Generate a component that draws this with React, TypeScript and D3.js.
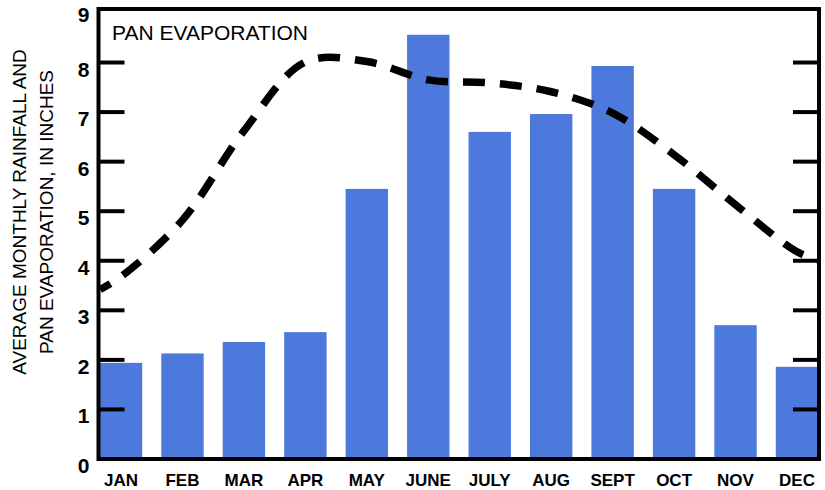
import React from "react";
import * as d3 from "d3";

const months = ["JAN", "FEB", "MAR", "APR", "MAY", "JUNE", "JULY", "AUG", "SEPT", "OCT", "NOV", "DEC"];
const rainfall = [1.94, 2.13, 2.36, 2.56, 5.45, 8.56, 6.6, 6.96, 7.93, 5.45, 2.7, 1.86];
// pan evaporation curve: month position (0 = JAN) and value
const evapPos = [-0.34, 0, 1, 2, 3, 4, 5, 6, 7, 8, 9, 10, 11, 11.34];
const evapVal = [3.42, 3.68, 4.82, 6.62, 8.01, 8.02, 7.65, 7.59, 7.41, 6.98, 6.14, 5.13, 4.18, 4.02];
const yTicks = [1, 2, 3, 4, 5, 6, 7, 8];
const yLabels = [0, 1, 2, 3, 4, 5, 6, 7, 8, 9];
const yMax = 9.08;

const W = 825;
const H = 490;
const left = 98.5;
const right = 819;
const top = 9;
const bottom = 459;

export default function App() {
  const x = d3.scaleBand<string>().domain(months).range([90.3, 827.7]).paddingInner(0.31).paddingOuter(0.155);
  const step = x.step();
  const center = (i: number) => (x(months[0]) as number) + x.bandwidth() / 2 + i * step;
  const y = d3.scaleLinear().domain([0, yMax]).range([bottom, top]);

  const line = d3
    .line<number>()
    .x((_, i) => center(evapPos[i]))
    .y((v) => y(v))
    .curve(d3.curveCatmullRom.alpha(0.5));
  const evapPath = line(evapVal) || "";

  const font = "'Liberation Sans', Arial, Helvetica, sans-serif";
  const lastLabel = yLabels[yLabels.length - 1];

  return (
    <svg width={W} height={H} style={{ position: "absolute", left: 0, top: 0, background: "#fff" }} fontFamily={font}>
      <defs>
        <clipPath id="plotClip">
          <rect x={left} y={top} width={right - left} height={bottom - top} />
        </clipPath>
      </defs>
      <g clipPath="url(#plotClip)">
        {rainfall.map((v, i) => (
          <rect
            key={months[i]}
            x={x(months[i])}
            y={y(v)}
            width={x.bandwidth()}
            height={y(0) - y(v)}
            fill="#4C79DB"
          />
        ))}
        <path
          d={evapPath}
          fill="none"
          stroke="#000"
          strokeWidth={7.5}
          strokeDasharray="22 15"
          strokeDashoffset={10}
        />
      </g>
      {yTicks.map((t) => (
        <g key={t}>
          <line x1={left} x2={left + 26} y1={y(t)} y2={y(t)} stroke="#000" strokeWidth={4} />
          <line x1={right - 26} x2={right} y1={y(t)} y2={y(t)} stroke="#000" strokeWidth={4} />
        </g>
      ))}
      <rect x={left} y={top} width={right - left} height={bottom - top} fill="none" stroke="#000" strokeWidth={4} />
      {yLabels.map((t) => (
        <text
          key={t}
          x={89.5}
          y={t === lastLabel ? top + 13 : y(t) + 14}
          textAnchor="end"
          fontSize={21}
          fontWeight="bold"
          fill="#000"
        >
          {t}
        </text>
      ))}
      {months.map((m) => (
        <text
          key={m}
          x={(x(m) as number) + x.bandwidth() / 2}
          y={486}
          textAnchor="middle"
          fontSize={17}
          fontWeight="bold"
          fill="#000"
        >
          {m}
        </text>
      ))}
      <text x={112} y={40} fontSize={21} fill="#000">
        PAN EVAPORATION
      </text>
      <g transform="translate(0,212) rotate(-90)">
        <text x={0} y={26} textAnchor="middle" fontSize={19} fill="#000">
          AVERAGE MONTHLY RAINFALL AND
        </text>
        <text x={0} y={53} textAnchor="middle" fontSize={19} fill="#000">
          PAN EVAPORATION, IN INCHES
        </text>
      </g>
    </svg>
  );
}
